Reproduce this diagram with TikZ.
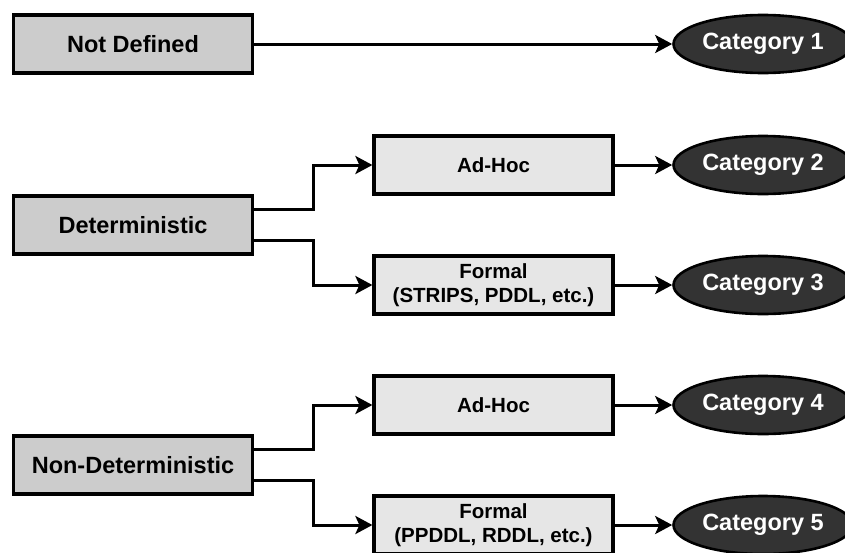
\documentclass[tikz,border=0pt]{standalone}
\usepackage{fontspec}
\setmainfont{Liberation Sans}
\usetikzlibrary{shapes.geometric,arrows.meta}

\definecolor{mainfill}{HTML}{CCCCCC}
\definecolor{subfill}{HTML}{E6E6E6}
\definecolor{catfill}{HTML}{333333}

\tikzset{
  mainbox/.style={draw=black, line width=3.2pt, fill=mainfill, rectangle,
    minimum width=239pt, minimum height=58pt, inner sep=0pt,
    font=\fontsize{23.5}{28}\selectfont\bfseries},
  subbox/.style={draw=black, line width=3.2pt, fill=subfill, rectangle,
    minimum width=239pt, minimum height=58pt, inner sep=0pt, align=center,
    font=\fontsize{20.5}{23.5}\selectfont\bfseries},
  catnode/.style={draw=black, line width=2.6pt, fill=catfill, ellipse,
    minimum width=179pt, minimum height=58pt, inner sep=0pt, text=white,
    font=\fontsize{23.5}{28}\selectfont\bfseries},
  link/.style={line width=3pt, draw=black,
    -{Stealth[length=17pt, width=18pt, inset=4pt]}},
}

\begin{document}
\begin{tikzpicture}[x=1pt, y=-1pt]
  \useasboundingbox (0,0) rectangle (845,552);

  % sources
  \node[mainbox] (nd)     at (133,44)  {Not Defined};
  \node[mainbox] (det)    at (133,225) {Deterministic};
  \node[mainbox] (nondet) at (133,465) {Non-Deterministic};

  % representations
  \node[subbox] (ah1) at (493.5,165) {Ad-Hoc};
  \node[subbox] (f1)  at (493.5,285) {Formal\\(STRIPS, PDDL, etc.)};
  \node[subbox] (ah2) at (493.5,405) {Ad-Hoc};
  \node[subbox] (f2)  at (493.5,525) {Formal\\(PPDDL, RDDL, etc.)};

  % categories
  \node[catnode] (c1) at (763,44)  {Category 1};
  \node[catnode] (c2) at (763,165) {Category 2};
  \node[catnode] (c3) at (763,285) {Category 3};
  \node[catnode] (c4) at (763,405) {Category 4};
  \node[catnode] (c5) at (763,525) {Category 5};

  % connectors
  \draw[link] (nd) -- (c1);

  \draw[link] ([yshift=16pt]det.east)  -- ++(59,0) |- (ah1.west);
  \draw[link] ([yshift=-15pt]det.east) -- ++(59,0) |- (f1.west);
  \draw[link] ([yshift=16pt]nondet.east)  -- ++(59,0) |- (ah2.west);
  \draw[link] ([yshift=-15pt]nondet.east) -- ++(59,0) |- (f2.west);

  \draw[link] (ah1) -- (c2);
  \draw[link] (f1)  -- (c3);
  \draw[link] (ah2) -- (c4);
  \draw[link] (f2)  -- (c5);
\end{tikzpicture}
\end{document}
